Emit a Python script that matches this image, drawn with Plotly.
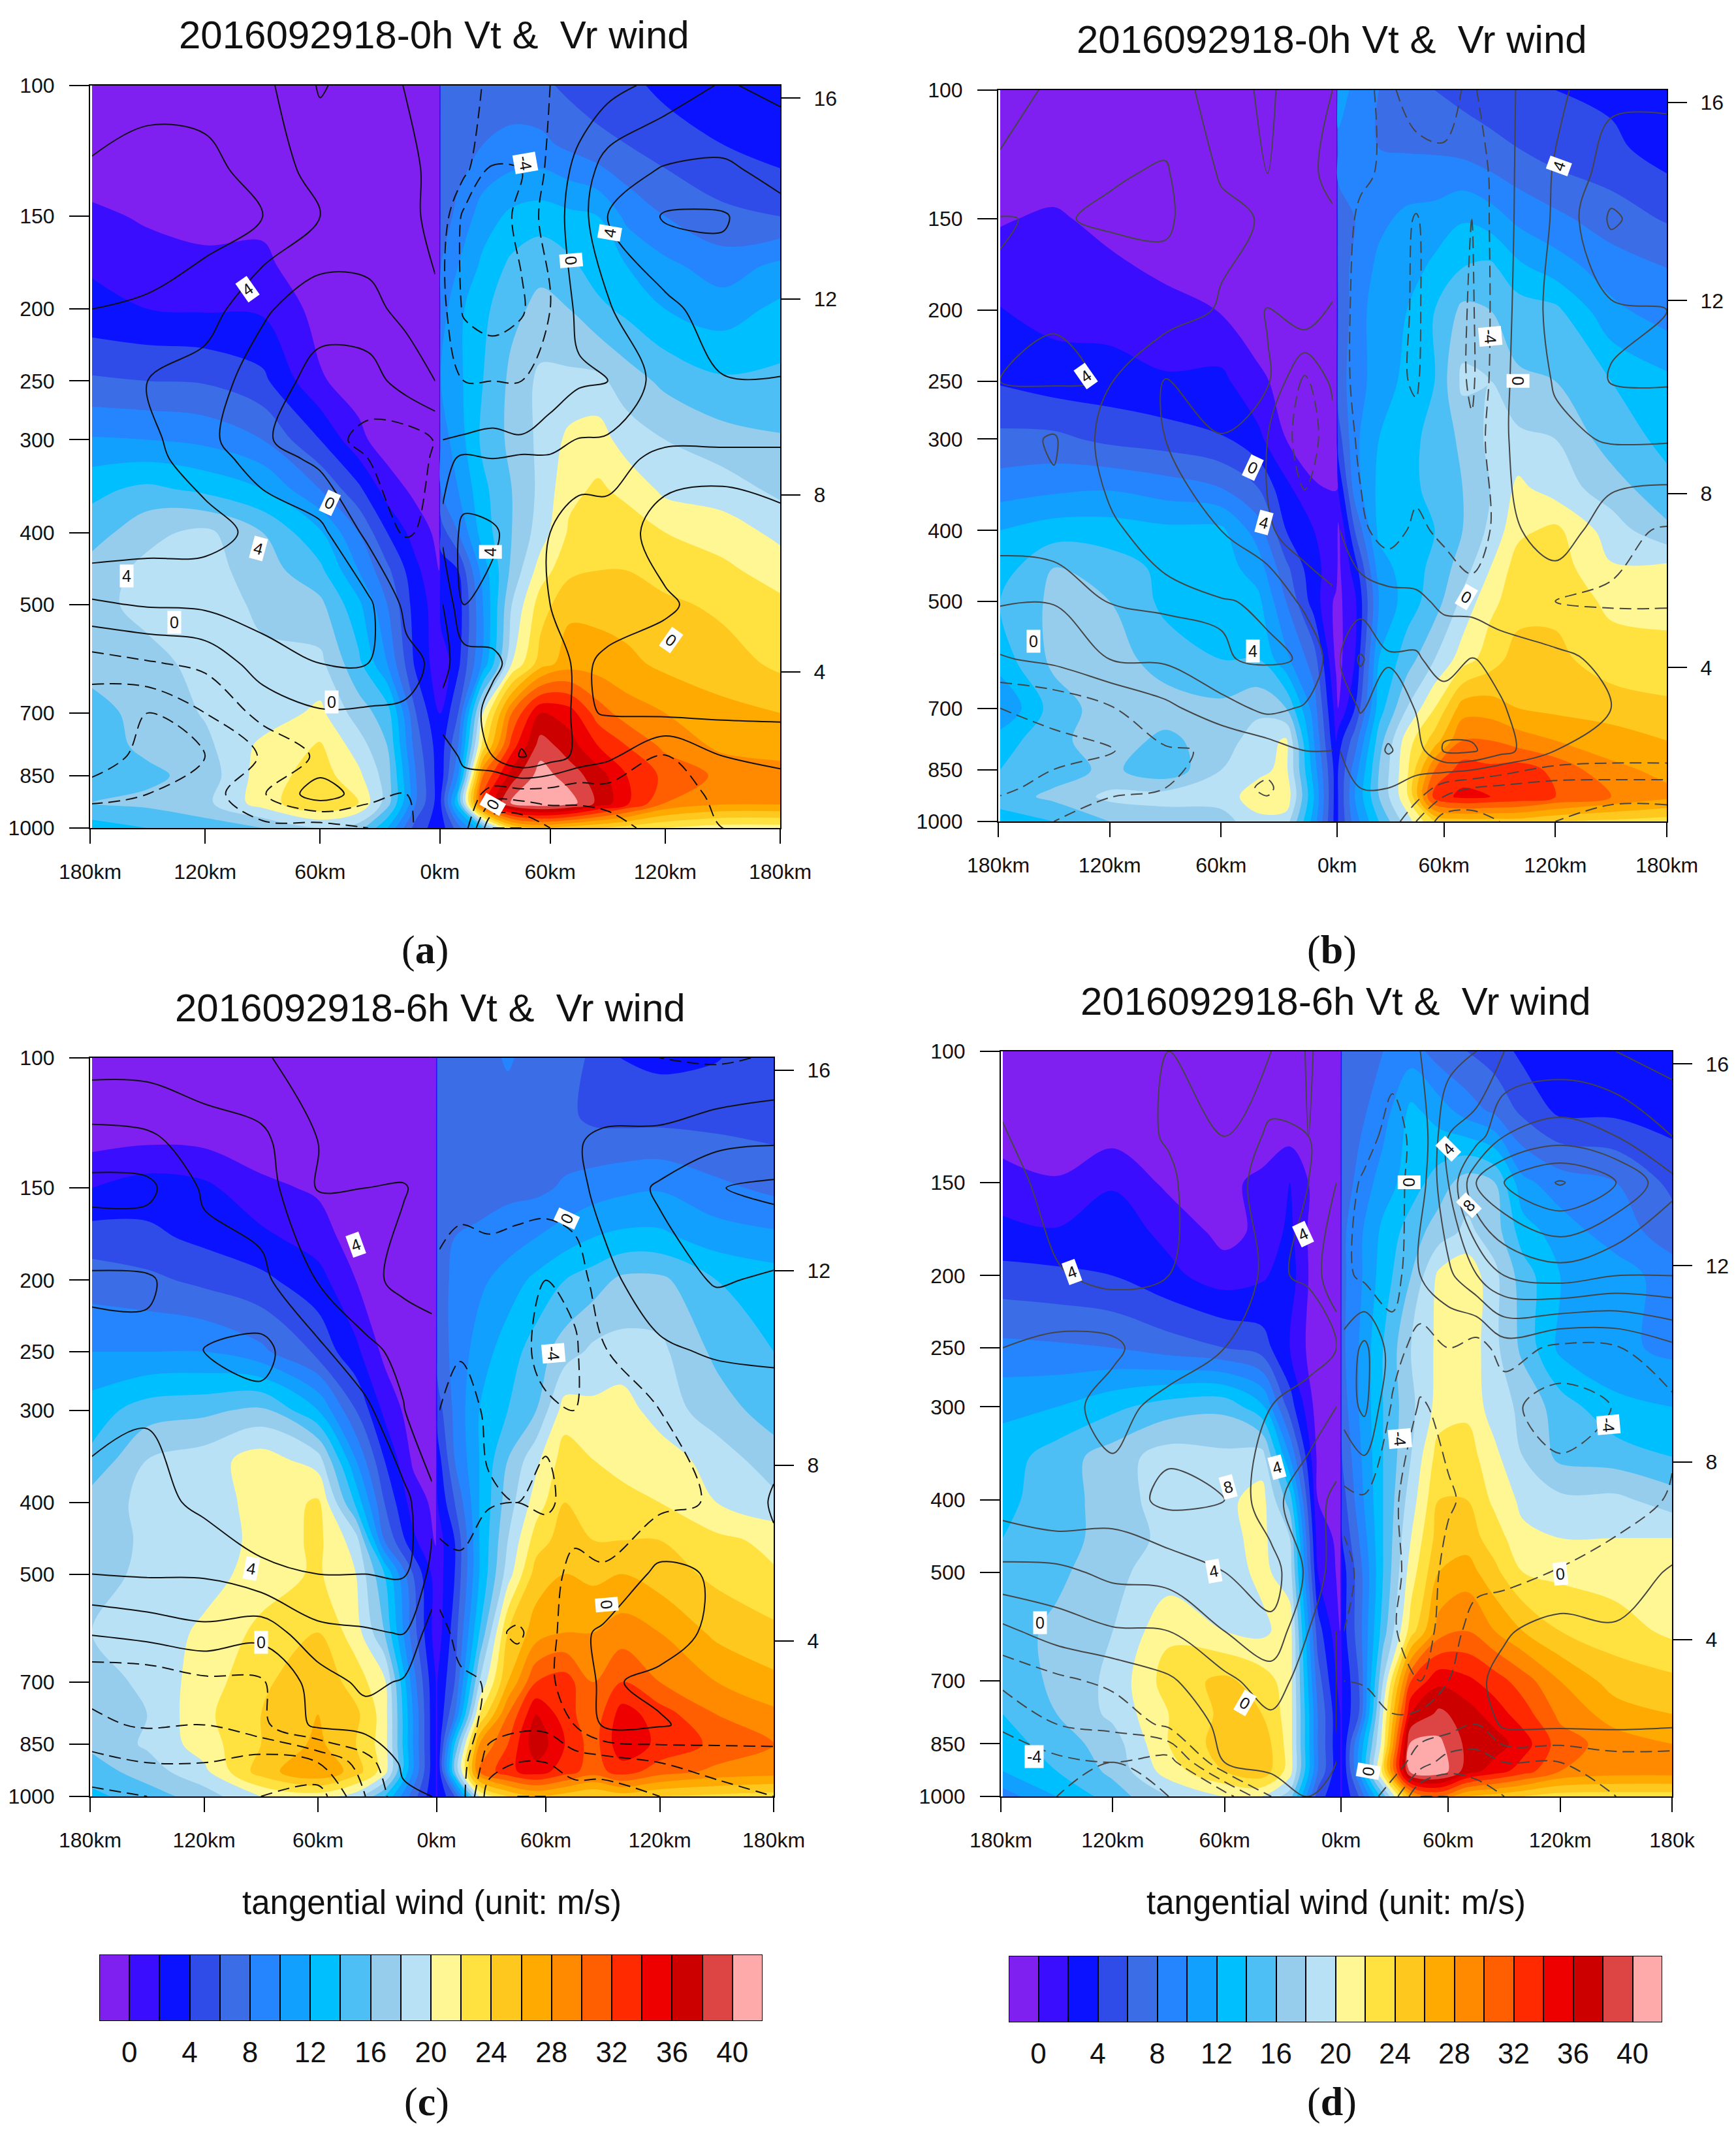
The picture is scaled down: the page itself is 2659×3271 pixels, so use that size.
import math
import plotly.graph_objects as go

W, H = 2659, 3271
PAGE = 8  # the browser's default page margin
# ---------- shared grids ----------
FILL_X = [-179,-150,-120,-90,-60,-40,-25,-10,2, 3,12,25,40,55,70,85,100,120,150,180]
FILL_P = [100,120,150,175,200,250,300,350,400,450,500,600,700,775,850,925,1000]
LINE_X_L = [-179,-150,-120,-90,-60,-35,-15,0]
LINE_X_R = [4,15,30,45,60,75,90,120,150,180]
LINE_P = [100,130,150,200,250,300,400,500,600,700,800,900,1000]
LINE_P_A = [100,130,150,200,250,300,318,400,500,600,700,800,900,1000]

# ---------- tangential wind (filled) ----------
FILL_A = [
[-3,-3,-3,-3,-3,-3,-3,-3,-3, 7,7,7,7,6.5,5.5,5,4.5,3.5,2.5,2.5],
[-2,-2,-2,-2,-2,-2,-2,-2,-2, 7,7,8,8.5,8.5,7.5,6.5,6,5,4,3],
[0.5,-0.3,-0.7,-0.5,-2,-2,-2,-2,-2, 7,8.5,11,12.5,13,12.5,12,9.5,8,6.5,6],
[1.8,1,0.5,0.5,-1.5,-2,-2,-2,-2, 8,10,12.5,14.5,15.5,14.5,13,12,10.5,9,10.5],
[2.5,2,1.8,1.7,-0.7,-2,-2,-2,-2, 9,11.5,13.5,15.5,16.5,16,14.5,13.5,12,11,12.5],
[6.3,6,5.8,4.5,0.2,-0.8,-2,-2,-2, 10,11.5,14,16.5,18.5,18.5,18.5,17,15.5,14.3,14.5],
[10.2,10,9.5,8,4,0.5,-1,-1.5,-2, 9,11,14.5,16.5,18.5,20.5,21,19,18,16.8,16.2],
[13.5,14.5,13.5,12,8,4.5,1,-0.5,-1, 8,10,13.5,16,18.5,21.5,22.3,21.5,19.5,19,17.5],
[15,17.5,18.5,16,12.3,8,4,1,-0.5, 5,8,13,16,19,22.3,23.8,23,22,21,19.5],
[17,18.5,18.8,17,14.5,10,6.5,2.5,0, 3,4,11,16.5,21,23.5,24,24,23,22.5,21],
[17.5,18.5,18.5,17.8,16.5,12.5,8,3,1, 3,3,10,18,23,25.5,25.3,25,24.5,23.5,22.5],
[16.5,17.5,18.5,18.2,18.5,14.5,10,3.5,1, 0.5,3.5,10.5,20,25,27,27,26.5,25.5,25,23.5],
[15.5,16.5,18.2,18.8,20.5,17,15,6,2, 2,6,20,30,36,35,31,29,28,26.5,26],
[15,16.5,17.5,20.5,22.2,19,16,7,3, 3,8,23,33,39,37,34,32,29.5,27.5,27],
[15,15.5,16.8,21,23,20.5,17,8,3, 3,10,30,37,41,39,37,34,31.5,29.5,29],
[16,16.5,17.5,21,24,22,17,8,3, 4,14,33,40.5,42,41,37.5,34.5,30,28.5,28.5],
[13,14,15,16,18,17,12,5,3, 3,7,14,24,26,25,24,23,22,21,21],
]
FILL_B = [
[-3,-3,-3,-3,-3,-3,-3,-3,-3, 12,9,8,7,6,5.3,5,4.5,4,3.5,3],
[-2,-2,-2,-2,-2,-2,-2,-2,-2, 9,8.5,8,7.8,7.7,7.3,6.5,6,5,4.5,3],
[-0.2,0.4,-0.8,-2,-2,-2,-2,-2,-2, 7,8,9.5,10.5,10.8,11.8,11,9.5,8.5,7,5.8],
[1,0.6,0.5,-0.5,-1.5,-2,-2,-2,-2, 7,8.5,10.5,11,12.5,14,14.5,12.5,11,9,8],
[2.1,1.3,1.2,0.8,-0.1,-1.5,-2,-2,-2, 6,9,11,12,14,16.5,16,15,14.5,10.5,9],
[3.8,3,2.8,2.2,2.5,0.5,-0.8,-1.5,-1.5, 7,9,11,12.5,14,18.5,18,16.3,16,14,12.5],
[6.5,6.5,5.5,5,4.2,2.5,0,-1,-1, 5,9.5,12,13.5,14.5,16.5,18.5,18.5,18,15,13.5],
[9,9.5,9.8,9,8,6,2.5,0.2,-0.2, 2,9,12.5,13.5,14.5,16,18,20.5,19,17,14.5],
[12,13,13,12.5,12.5,9,4,2,1.5, -0.5,6,12.5,13,14,16,18.5,21.5,22.5,19,16.5],
[13,16,15,13.5,13,11,6.5,2.5,1, -0.5,3,11,13,14.5,17,20,23,23,20.2,20.5],
[14,16.5,16,13.5,13,12.5,8,3,-0.5, -0.5,1.5,10,13,15,18.5,21.5,23,23.5,21.5,21.5],
[13,16.5,17,15,14,14,10.5,7,-0.5, -0.7,2,12,15,18,21,23,25,24.5,23,22.5],
[10,15,17,17,16.5,17.5,16,9,1, 0,4,13,18,22,27,27,26,25.5,25,24.5],
[13,15.5,17,15.5,17,19,20.3,10,2, 3,7,15,21,25,30,30,29,28,27,26],
[14,15,16.5,14.5,18,19.5,20.5,11,3, 4,9,16,21.5,30,33,32.5,33,31.5,28.5,27.5],
[15,16.5,18.5,19,19,21,21.5,12,3, 4,10,16,21.5,33,34.5,34,33.5,32,30,28.5],
[13,14,16,16.5,17,19.5,19,11,3, 4,9,14,19,24,25,25,25,24,23.5,23],
]
FILL_C = [
[-3,-3,-3,-3,-3,-3,-3,-3,-3, 7,7,7,8.3,7,6.5,5.8,3.9,3.5,3.9,5],
[-2,-2,-2,-2,-2,-2,-2,-2,-2, 7,7,7,7,7,6.5,5.5,5.3,5.3,5.2,5],
[2,3,2.5,0.5,-0.3,-2,-2,-2,-2, 7,7,7,7.5,7.5,8.3,9,9.5,9.8,8.5,7.5],
[5,4.5,3.5,2.5,1,-1,-2,-2,-2, 7,8,8.5,9,10,11,12,12.5,12.5,11,10.5],
[7,6.5,5.5,4.5,2.8,0,-1.5,-2,-2, 7,8.5,9.5,11,12.5,14,15,16.5,16.5,14,13],
[10,10,10,8.5,5.5,2.5,-0.5,-1.8,-2, 7,8.5,11,13,15,17,18.5,18.7,18.5,15.5,14],
[13,15,15.5,16.5,12,6,1.5,-1,-1, 5,8.5,12,14,16,21,20.5,21,19,17,15],
[14.5,18,19,21,19,10,4,-0.3,-1, 3,8,12,16,19.5,23,22,21.7,21.2,19,17],
[17,18.5,19,20.7,22.3,13.5,6,1,-0.5, 2,6,12,17,21,24,23,22.3,22,20,18.5],
[16.5,18.5,19,20.5,22.5,19,8,2.5,-0.2, 1,4,12,18,23,25,24,24,24,22.5,21.5],
[17.5,18.3,19,21,22.3,20,14,6,1, 1,4,12,19,25,26,25.5,26,25,23.5,22.2],
[18,18.5,20.5,22.5,24,21,16,7,1, 1,5,14,24,27,28,28,29,28,25.5,24.5],
[17,18.5,21,23.5,25.7,23,20.5,9,2, 2,6,18,26,32,33,30,32,30,28,26.5],
[16.5,18,21.5,24,26,24.5,21,10,2, 2,8,22,30,36,33,30.5,35,33,30,28.5],
[16.5,18.3,21,24,26.5,24,21,10,2, 2,14,28,32,37.5,34,31,35.5,33.5,31.5,30],
[15,17,19.5,25,28,25,21,10,2, 2,16,30,33.5,35,33,31,33,31,29.5,29],
[13.5,15,17,20,21,19,14,7,2, 2,6,20,24,26,25,24,25,24,23.5,23],
]
FILL_D = [
[-3,-3,-3,-3,-3,-3,-3,-3,-3, 6.5,7,8,9,7,6,5,3.5,3,3,3],
[-2,-2,-2,-2,-2,-2,-2,-2,-2, 7,7.5,9,12.5,11,9,7.5,5.5,3.5,3.5,3],
[1,0.2,1.8,-0.5,-0.5,0.5,2,-1,-2, 7,8.5,11,13,15,17,16,10.5,9,8,5.5],
[2.5,2.2,3,1.5,-0.7,0.5,2.5,-1.5,-2, 7.5,9.5,12.5,15,17,18.5,17,13,11,9,7],
[4.8,4.5,4,2.5,1,1.7,3,-1.5,-2, 7.5,9.5,13,16,20.5,21.5,18.5,15,12,11,9],
[8.5,8.3,8,7,6,5,2,-1.5,-2, 7.5,10,14,18,20.5,21.5,18.5,15.5,11.5,10.5,9.5],
[11.5,12,13.5,15,15.5,12.5,5,-1,-1.5, 7,10,14,17.5,20.8,21.5,19,17.5,15,12.5,12],
[13,15,17,19,18.5,19,10,-0.5,-1, 6,9.5,14,18,23,23,20.5,18,15.5,15,14],
[13.5,15,17,19,19.5,20.8,15,0,-1, 5,9,14,19,24,24,21.5,19.5,18.5,18.5,17],
[14,15,17,18.5,19.5,20.5,18,1,-0.5, 4,8,14,20,25,25,23,20.5,20,20,20],
[14.5,15.5,17.5,19,19,20.5,19,2,-0.5, 3,7,14,21,26,27,24.5,22,21.5,21,20.3],
[15,16.5,18,21.5,20,19.5,21,5,0, 3,7,15,23,29,30,28,26,24,23,21.5],
[14.5,16.5,18.5,23,24.5,23,21,7,1, 2,6,18,32,35.5,34.5,33,31,28,25,24.5],
[14,16,18.5,22,24.5,24,21,8,2, 2,6,20,36,38.5,37,35,33,29.5,27,26],
[13,15,17,22,25,25.5,21,8,2, 2,10,21,40.5,40.5,37.5,37,35,31,29,28],
[12,14,16.5,21,24,25.5,21,8,2, 2,10,23,41,41.5,37,35,33,30,29,29],
[9,12,15,18,20,20,17,5,2, 2,6,15,27,30,26,25,24,23,23,23],
]

# ---------- radial wind (lines) ----------
LINE_A = [
[5,5.1,5.2,4.6,1.8,3,1.9,1, -1,-1.5,-2.3,-3,-2,-1.5,-0.8,0.8,2.2,1.5],
[6.2,7,6.6,5.2,3.2,3,2.5,1.5, -0.5,-1.5,-4.2,-4,-1.5,0.7,3,4.2,4.3,3.5],
[7,7,6.8,6,4,3,2.5,1.5, -1,-4.5,-5,-3.5,-1,1,4,6.2,6.2,4.5],
[6,5.8,5,2.3,0.8,1.5,2.5,2.3, -1.5,-4.3,-5.2,-4.3,-2,0.5,1.8,3.5,5,5.5],
[5,4,3,1,-0.7,-1,1,2, -1,-2,-2,-2,-1.2,-0.3,0,3,3.9,3.9],
[5.5,4.5,2.6,0.3,-1.3,-2.5,-3,-1.9, 0,0.2,0.5,0.2,1,2.1,2.2,2.2,2.2,2.2],
[5.6,4.6,3,1,-0.5,-2,-2.8,-1.8, 1.2,2.5,2,2.5,2.3,2.4,2.4,1.7,1.7,1.7],
[5.7,5,4.8,3.4,2.5,-0.5,-2.2,-1.5, 2.5,4.5,4.3,3,2,1.6,1.6,2.3,2.5,2.2],
[1.7,2.2,2.4,3,3.2,2.4,-0.5,-1.9, 0,4,3.5,3,2,1.5,1.5,1.9,2.3,2.3],
[-2.9,-2.2,-1.5,1,2,2,0.5,-0.3, -0.5,1,1.5,3,2.5,1.8,2.2,2.3,2.5,3.9],
[-5.5,-6,-4,-1.3,-0.2,-0.3,-0.2,0, 0.5,0.8,2.8,3,2.5,1.8,2.1,2.4,2.4,2.4],
[-5.5,-6.3,-6,-3.8,-1.6,-0.7,-0.3,0, -0.5,0.2,2,4.2,3,1.5,0.5,-2.1,0,0.5],
[-6.4,-6,-5,-2.2,1.2,-1.2,-2,-1, 0,-0.5,-3,-3,-3,-3.5,-3,-3,-1.5,-1],
[-5,-5,-5,-4.5,-5,-4,-2.5,-0.5, 0,-1,-8,-8,-6,-5,-5,-3,-2,-2],
]
LINE_B = [
[3.5,4.2,4.5,4.9,3.2,1.5,3.7,4, -1,-1.8,-2.2,-1.5,-1.5,-2.3,-0.6,1.5,3.5,3.8],
[4.2,5.3,5.8,6.2,3.8,2,3.8,4.2, -1.5,-1.8,-2.2,-2.5,-2.3,-3.8,-0.8,2.2,5,4.5],
[6.1,5.8,6.3,6.3,4.5,3.8,3.9,3.9, -1.5,-2.2,-2.5,-4.2,-2.3,-4,-0.8,2.3,6.3,4.8],
[5.8,4.1,4.2,5,3.8,1.8,3.7,1.8, -1.5,-2.5,-3,-4.3,-2.5,-4.3,-0.8,2.8,3.7,4],
[4,3.8,4.1,1.9,3.9,2.3,-2.5,0.5, -1,-3,-3.5,-4.2,-2.3,-4.4,-0.5,2.2,4.1,4.2],
[5.2,6.2,3.2,2,1.8,0,-3,-1, -0.5,-2.5,-4,-3.5,-2.3,-3.6,-0.3,1.5,2.2,2.2],
[5,5.5,4.3,3.2,2,0.3,-1.2,-0.7, 0,-1.5,-3,-1.5,-2.5,-3.9,-1,1.5,-1.5,-2.2],
[2.2,2.1,4.1,4.5,4.1,3.8,1.5,0.2, 0.5,1,0.8,0.3,-0.3,-0.8,-1.5,-2,-2.2,-2.2],
[-0.2,0.5,2,2.3,3.9,4.2,3.9,1, 2,4.3,2.2,2.3,1,2.1,1.5,0.5,-0.5,-0.5],
[-4,-3.5,-2.2,-0.5,1.2,2.5,1.8,0.5, 0.5,2.2,1,2.1,3.2,2.8,2.2,0.5,0,0],
[-4,-4.5,-4.2,-2.2,-1.8,-1,0,0, 0,0.5,2.2,1,4.2,4.3,2.8,0,-0.5,-0.5],
[-4.3,-3.5,-2.2,-2,-1.2,-2.3,-0.5,0, 0,0,0,-0.5,-3,-4,-4.5,-5,-5,-5],
[-3,-2,-1.5,-1.9,-1,-1,-0.5,0, 0,-0.2,-0.5,-4,-7,-7,-6,-4,-3,-3],
]
LINE_C = [
[3,3,2.8,2.2,1.2,1.2,1,1, -0.5,-0.5,-0.5,-0.5,-0.5,-0.5,-1,-2,-2.3,-1.8],
[6.8,6.5,5,4.5,2,2,1.2,1, -0.5,-0.5,-0.5,-0.5,-0.5,-0.1,0.2,0.5,1.5,1.8],
[8.6,8.5,5.7,5,1.9,2,2.1,1.5, -1,-1,-1,-1,-1,-0.5,0.5,2.3,3.9,4.5],
[5.7,5.8,7,6.5,3.9,2.5,1.5,0.5, -2.5,-3.5,-3,-3.5,-4,-3.5,-0.5,1,2.2,1.7],
[6.5,6.3,8.1,8.5,6.5,4.5,3.5,3.7, -3,-3.9,-3.8,-3.8,-4.2,-4.3,-2.2,-0.3,0.2,0.3],
[7,6.2,6.5,7.5,7,6.5,4.1,2.3, -4,-4.5,-3.8,-3.7,-3.9,-4,-2.8,-2,-1.2,-0.8],
[5,5.2,6.5,7.6,7.5,6.8,6.6,4.5, -4.5,-5,-4.1,-4,-4.1,-3.8,-3,-2.5,-1.8,0.2],
[4,4.2,4.2,5.5,6,6,6.2,3.5, -3.5,-3.5,-3,-2,-3.5,-1,-1.8,0.5,-0.2,-0.5],
[0.2,0.8,1.5,0.7,3.5,3.8,4.1,1, -1,-3,-3.5,-4.3,-3,-0.5,0.3,1,-0.5,-0.5],
[-3.5,-3.5,-2.5,-2.3,1,2.5,1.8,1.5, -0.5,-1.5,-2.2,-3,-2.5,-1,0.3,-0.5,-0.5,-0.5],
[-4.3,-3.8,-4,-2.5,0.5,1,0.8,1.8, 0,-0.5,-3,-3.5,-3.5,-2,0.2,0.2,-0.8,0],
[-6.7,-6,-6,-7,-6,-3,0.5,0.3, 0,-1,-5,-6,-6,-5,-5,-4,-3,-3.5],
[-8.5,-8,-7,-8,-9,-4,-0.5,0, 0,-1,-7,-8,-8,-7,-7,-6,-5,-4],
]
LINE_D = [
[3,3.5,3.5,4,4,4,6.2,5, -0.5,-1,-1.5,0,1,2,4,4.5,4,3],
[4.2,2.5,3.5,4.1,4,6.5,6,5, -1,-1.5,-2.5,-1.5,4,5,8,9,8,6],
[5,3,3.2,3.8,5,7,6,4, -1.5,-2.2,-2.8,-1,4,10,12,14.2,12,8.5],
[5,4.2,3.4,4,5.5,6.2,5.8,2, -1.5,-2.5,-3,0,1.5,3.9,6,7,6,6],
[6,6.5,6.5,4.2,6,8,7,6, 0.5,2.5,-1,-3,-2,-3,-1,-2.5,-2.2,-0.5],
[6.2,7,5,7,7,6,5,4, 0.8,2.5,-2.3,-4.2,-3.5,-3.8,-3.5,-5,-3.9,-2.5],
[7,7.9,7,8.5,8,4.5,3,1.5, -2.5,-2.3,-3.7,-5,-4.2,-3.5,-3.2,-3,-3,-1.8],
[3.5,3.5,4.5,4.8,6,7,3.5,1, -1.5,-2.5,-3.5,-5,-3.5,-2.8,-2.8,-1.9,-1,0.2],
[-0.5,1,1.8,2,4,5.5,2,0, -2,-3,-3.8,-5,-3,-1,-0.2,0.8,0.2,0.5],
[-3.6,-2.5,-1.5,-0.3,1.5,3,1,0, -2,-2.2,-3.5,-4,-2,-0.3,0.5,0.8,0.5,0.5],
[-5.5,-4,-3.5,-1.5,0.5,1.5,0.5,0, -0.5,-0.5,-1.5,-1,-1,-2,0.5,0.5,0.5,0.3],
[-8,-6.5,-6,-7,0,1,0.5,0, -0.5,-0.5,-1,-3,-5,-5,-4,-4,-3,-3],
[-6,-6,-4,-6,-7,-2,0,0, 0,-1,-3,-8,-8,-7,-6,-5,-4,-3],
]

TITLES = ["2016092918-0h Vt &  Vr wind","2016092918-0h Vt &  Vr wind",
          "2016092918-6h Vt &  Vr wind","2016092918-6h Vt &  Vr wind"]
PRESS_TICKS = [100,150,200,250,300,400,500,700,850,1000]
X_TICK_VALS = [-180,-120,-60,2.5,60,120,180]
X_TICK_TEXT = ["180km","120km","60km","0km","60km","120km","180km"]
X_TICK_TEXT_D = ["180km","120km","60km","0km","60km","120km","180k"]
H_TICK_P = [104,194,356,616]
H_TICK_TEXT = ["16","12","8","4"]

BAND_COLORS = ["#8020F0","#3A0DFF","#0A12FF","#2F4BE8","#3A6DE6","#2585FF","#12A0FF","#00BFFF",
               "#4DBFF5","#96CDEC","#B8E1F6","#FFF694","#FFE23F","#FFC81E","#FFAA00","#FF8A00",
               "#FF5F00","#FF2A00","#EE0000","#CD0000","#DD4444","#FFAAAA"]
BAND_CENTERS = [-1+2*i for i in range(22)]
CBAR_TICKS = list(range(0,41,4))

LABELS_A = [(-98,188,"4",-35),(-55,365,"0",25),(-92,420,"4",15),(-161,458,"4",0),(-136,528,"0",0),
            (-54,676,"0",0),(29,425,"4",-90),(47,127,"-4",80),(91,158,"4",-80),(71,172,"0",85),
            (123,558,"0",35),(30,930,"0",-60)]
LABELS_B = [(-133,246,"4",-35),(-43,328,"0",25),(-37,390,"4",15),(-43,585,"4",0),(-161,567,"0",0),
            (122,127,"4",-70),(85,217,"-4",85),(100,250,"0",90),(72,493,"0",30)]
LABELS_C = [(-40,179,"4",-20),(71,165,"0",-65),(64,251,"-4",85),(-95,491,"4",10),(-90,619,"0",0),(92,550,"0",85)]
LABELS_D = [(-142,198,"4",-20),(-18,176,"4",-25),(60,135,"4",-45),(39,150,"0",90),(71,161,"8",-45),
            (-58,384,"8",-15),(-32,362,"4",-15),(-66,498,"4",-10),(-159,585,"0",0),(-49,749,"0",30),
            (-162,884,"-4",0),(17,926,"0",-80),(34,331,"-4",85),(146,317,"-4",85),(120,503,"0",-5)]

PANELS = [
 dict(box=(138,131,1195,1268), fill=FILL_A, lines=LINE_A, lp=LINE_P_A, labels=LABELS_A, xt=X_TICK_TEXT, lc="#111111", title=(665,54), tag=(651,1454), letter="a"),
 dict(box=(1529,138,2553,1258), fill=FILL_B, lines=LINE_B, lp=LINE_P, labels=LABELS_B, xt=X_TICK_TEXT, lc="#454545", title=(2040,60), tag=(2040,1454), letter="b"),
 dict(box=(138,1620,1185,2751), fill=FILL_C, lines=LINE_C, lp=LINE_P, labels=LABELS_C, xt=X_TICK_TEXT, lc="#111111", title=(659,1543), tag=(653,3218), letter="c"),
 dict(box=(1533,1610,2561,2751), fill=FILL_D, lines=LINE_D, lp=LINE_P, labels=LABELS_D, xt=X_TICK_TEXT_D, lc="#454545", title=(2046,1533), tag=(2040,3218), letter="d"),
]
CBARS = [dict(box=(152,2993,1168,3095), title=(661,2913)), dict(box=(1545,2995,2546,3097), title=(2046,2913))]

FONT = "Liberation Sans"
scale = []
for i in range(22):
    scale += [[i/22, BAND_COLORS[i]], [(i+1)/22, BAND_COLORS[i]]]

def split(m, n):
    return [r[:n] for r in m], [r[n:] for r in m]
def fx(px):
    return (px-PAGE)/W
def fy(px):
    return 1-(px-PAGE)/H

fig = go.Figure()
layout = {}
ann = []
for idx, p in enumerate(PANELS):
    k = 3*idx+1
    xa, ya, y2 = f"x{k}", f"y{k}", f"y{k+1}"
    L, T, R, B = p["box"]
    fig.add_trace(go.Contour(x=FILL_X, y=FILL_P, z=p["fill"], xaxis=xa, yaxis=ya, showscale=False,
        colorscale=scale, zmin=-2, zmax=42, autocontour=False,
        contours=dict(start=0, end=40, size=2, coloring="fill", showlines=False),
        line=dict(width=0, smoothing=1), hoverinfo="skip"))
    left, right = split(p["lines"], len(LINE_X_L))
    for xs, zs in ((LINE_X_L, left), (LINE_X_R, right)):
        for st, en, dash in ((0, 16, "solid"), (-16, -2, "18px,9px")):
            fig.add_trace(go.Contour(x=xs, y=p["lp"], z=zs, xaxis=xa, yaxis=ya, showscale=False,
                autocontour=False, contours=dict(start=st, end=en, size=2, coloring="none"),
                line=dict(color=p["lc"], width=2, dash=dash, smoothing=1), hoverinfo="skip"))
    # invisible trace so the right-hand height axis is drawn
    fig.add_trace(go.Scatter(x=[0], y=[500], xaxis=xa, yaxis=y2, mode="markers",
                             marker=dict(opacity=0), hoverinfo="skip", showlegend=False))
    layout[f"xaxis{k}"] = dict(domain=[fx(L), fx(R)], anchor=ya, range=[-180,180], tickmode="array", automargin=False,
        tickvals=X_TICK_VALS, ticktext=p["xt"], ticks="outside", ticklen=22, tickwidth=2,
        tickcolor="black", showline=True, linecolor="black", linewidth=2, mirror=True, showgrid=False,
        zeroline=False, tickfont=dict(family=FONT, size=32, color="#111"), ticklabelstandoff=16)
    layout[f"yaxis{k}"] = dict(domain=[fy(B), fy(T)], anchor=xa, type="log", range=[3,2], tickmode="array", automargin=False,
        tickvals=PRESS_TICKS, ticktext=[str(v) for v in PRESS_TICKS], ticks="outside", ticklen=30, tickwidth=2,
        tickcolor="black", showline=True, linecolor="black", linewidth=2, mirror=True, showgrid=False,
        zeroline=False, tickfont=dict(family=FONT, size=32, color="#111"), ticklabelstandoff=16)
    layout[f"yaxis{k+1}"] = dict(domain=[fy(B), fy(T)], anchor=xa, overlaying=ya, side="right", type="log", automargin=False,
        range=[3,2], tickmode="array", tickvals=H_TICK_P, ticktext=H_TICK_TEXT, ticks="outside", ticklen=30,
        tickwidth=2, tickcolor="black", showline=False, showgrid=False, zeroline=False,
        tickfont=dict(family=FONT, size=32, color="#111"), ticklabelstandoff=14)
    for (km, pr, txt, ang) in p["labels"]:
        ann.append(dict(x=km, y=math.log10(pr), xref=xa, yref=ya, text=txt, showarrow=False, textangle=ang,
                        bgcolor="white", font=dict(family=FONT, size=25, color="#111"), borderpad=3))
    ann.append(dict(x=fx(p["title"][0]), y=fy(p["title"][1]), xref="paper", yref="paper", text=TITLES[idx],
                    showarrow=False, font=dict(family=FONT, size=60, color="#111"), xanchor="center", yanchor="middle"))
    ann.append(dict(x=fx(p["tag"][0]), y=fy(p["tag"][1]), xref="paper", yref="paper",
                    text=f"(<b>{p['letter']}</b>)", showarrow=False,
                    font=dict(family="Liberation Serif", size=62, color="#111"), xanchor="center", yanchor="middle"))

for j, c in enumerate(CBARS):
    k = 13+j
    L, T, R, B = c["box"]
    fig.add_trace(go.Bar(x=BAND_CENTERS, y=[1]*22, width=[2]*22, xaxis=f"x{k}", yaxis=f"y{k}",
        marker=dict(color=BAND_COLORS, line=dict(color="black", width=2)), hoverinfo="skip", showlegend=False))
    layout[f"xaxis{k}"] = dict(domain=[fx(L), fx(R)], anchor=f"y{k}", range=[-2,42], tickmode="array", automargin=False,
        tickvals=CBAR_TICKS, ticktext=[str(v) for v in CBAR_TICKS], ticks="", showgrid=False, zeroline=False,
        tickfont=dict(family=FONT, size=44, color="#111"), ticklabelstandoff=18)
    layout[f"yaxis{k}"] = dict(domain=[fy(B), fy(T)], anchor=f"x{k}", range=[0,1], visible=False, automargin=False)
    ann.append(dict(x=fx(c["title"][0]), y=fy(c["title"][1]), xref="paper", yref="paper",
                    text="tangential wind (unit: m/s)", showarrow=False,
                    font=dict(family=FONT, size=51, color="#111"), xanchor="center", yanchor="middle"))

fig.update_layout(width=W, height=H, margin=dict(l=0,r=0,t=0,b=0), autosize=False, showlegend=False,
                  paper_bgcolor="white", plot_bgcolor="white", annotations=ann, bargap=0, **layout)
fig.write_html("out.html")
